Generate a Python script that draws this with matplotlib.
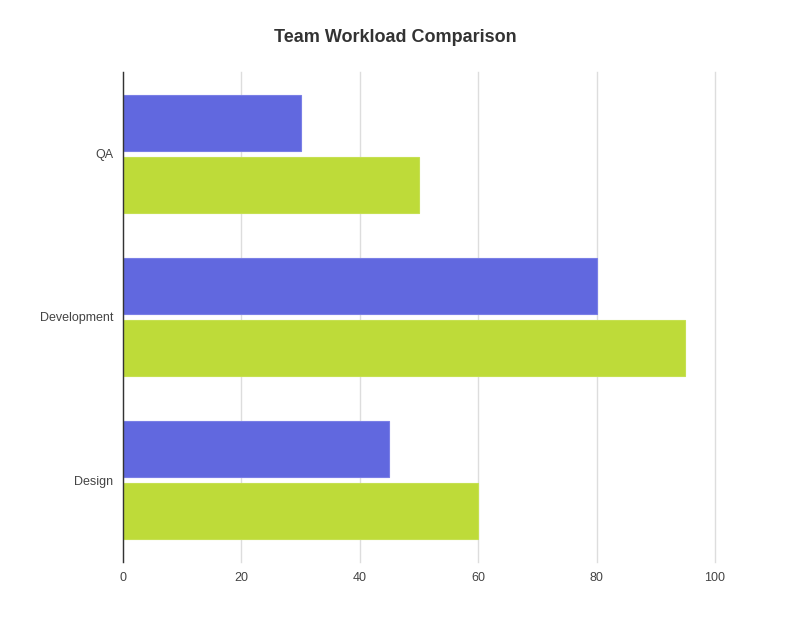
import numpy as np
import matplotlib.pyplot as plt

plt.rcParams['font.family'] = ['Liberation Sans', 'DejaVu Sans']

categorias = ['Design', 'Development', 'QA']
serie_a = [45, 80, 30]
serie_b = [60, 95, 50]
ticks_x = [0, 20, 40, 60, 80, 100]

fig = plt.figure(figsize=(7.9, 6.17), dpi=100)
ax = fig.add_axes([123/790, 1 - 562/617, (715 - 123)/790, (562 - 72)/617])

y = np.arange(len(categorias))
h = 0.344
ax.barh(y + 0.19, serie_a, height=h, color='#6168df', edgecolor='#7a7fe6', linewidth=0.8, zorder=3)
ax.barh(y - 0.19, serie_b, height=h, color='#bedb39', edgecolor='#c6e052', linewidth=0.8, zorder=3)

ax.set_xlim(0, 100)
ax.set_ylim(-0.5, 2.5)
ax.set_xticks(ticks_x)
ax.set_yticks(y)
ax.set_yticklabels(categorias)
ax.tick_params(axis='both', length=0, labelsize=9, colors='#444444')
ax.tick_params(axis='x', pad=7)
ax.tick_params(axis='y', pad=7)
ax.grid(axis='x', color='#dddddd', linewidth=1, zorder=0)
for g in ax.get_xgridlines():
    g.set_clip_on(False)

for s in ['top', 'right', 'bottom']:
    ax.spines[s].set_visible(False)
ax.spines['left'].set_color('#333333')
ax.spines['left'].set_linewidth(1)
ax.spines['left'].set_zorder(4)

fig.text(0.5, 1 - 37/617, 'Team Workload Comparison', ha='center', va='center',
         fontsize=13, fontweight='bold', color='#333333')

fig.savefig('out.png', dpi=100)
